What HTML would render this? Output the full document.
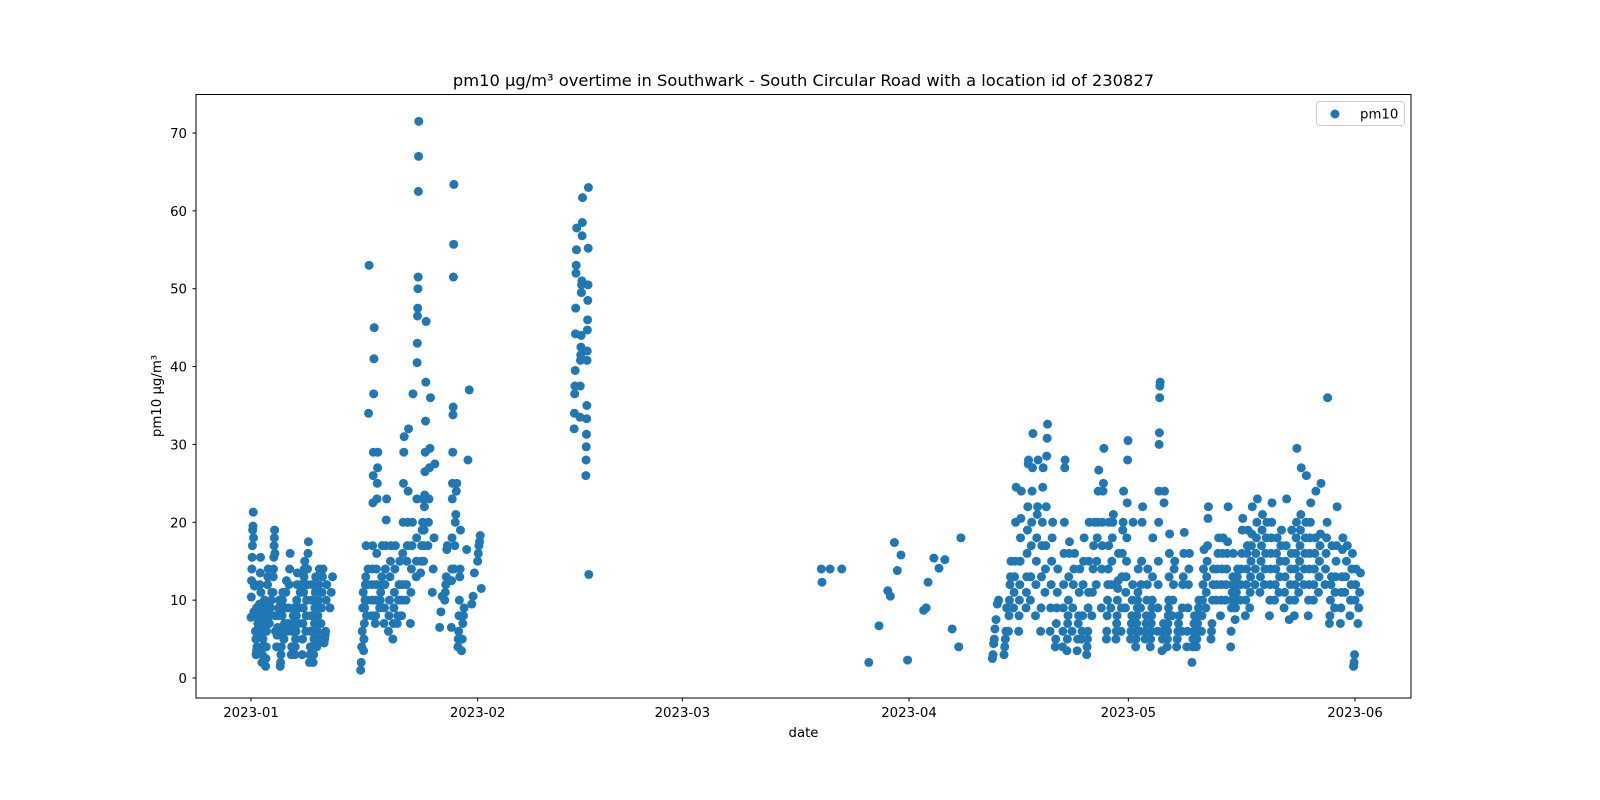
<!DOCTYPE html>
<html><head><meta charset="utf-8"><style>
html,body{margin:0;padding:0;background:#fff;width:1600px;height:800px;overflow:hidden}
svg{display:block;font-family:"DejaVu Sans","Liberation Sans",sans-serif}
</style></head><body>
<svg id="chart" width="1600" height="800" viewBox="0 0 1600 800">
<text x="803.5" y="86" font-size="16.3" text-anchor="middle">pm10 µg/m³ overtime in Southwark - South Circular Road with a location id of 230827</text>
<g id="marks"></g>
<rect x="196" y="94.5" width="1215" height="603.5" fill="none" stroke="#000" stroke-width="1"/>
<g id="xticks"></g>
<g id="yticks"></g>
<text x="803.5" y="737" font-size="13.3" text-anchor="middle">date</text>
<text transform="translate(161,396) rotate(-90)" font-size="13.3" text-anchor="middle">pm10 µg/m³</text>
<g>
<rect x="1316.5" y="101.5" width="88" height="24" rx="3" fill="#fff" stroke="#ccc"/>
<circle cx="1335" cy="114" r="4.5" fill="#1f77b4"/>
<text x="1360" y="118.5" font-size="13.3">pm10</text>
</g>
</svg>
<script>
// strip days (days since 2023-01-01) and values per strip
const stripDays = [0,0.4,0.7,1,1.5,2,2.5,3,3.5,4,4.5,5,5.5,6,6.5,7,7.5,8,8.5,9,9.5,10,10.8,
15,15.4,15.8,16.5,17,17.6,18.2,18.8,19.4,20,20.6,21.2,21.8,22.6,23.2,23.6,24.2,24.8,25.8,26.5,27.4,27.8,28.3,28.8,29.5,30.2,31,31.5,
44.2,45,45.8,46.2,
78,78.1,79.2,80.8,84.5,85.9,87.1,88,88.4,88.9,89.8,92,92.6,93.4,94.1,94.9,95.9,96.8,97.1,
101.4,101.9,103,103.6,104.3,105,106,106.6,107.3,108,108.6,109.3,110,111,111.6,112.3,113,113.6,114.3,115,115.6,116.3,117,117.6,118.3,119,119.6,120.3,121,121.6,122.3,123,124,124.6,125.3,126,126.6,127.3,128,128.7,129.3,130,130.6,131.3,132,132.6,133.3,134,134.6,135.3,136,136.6,137.3,138,138.6,139.3,140,140.6,141.3,142,142.7,143.3,144,144.6,145.3,146,146.9,147.5,148.2,149,149.6,150.3,150.8,151.4];
const stripVals = [
[7.8,10.4,12.5,14,15.5,17,19,19.5,21.3,18],[8.5,11.8,12,6,5,9],[3,3.5,4,6,7,8,9],[5.5,6.5,7.5,8.5,9.5,12,13.5,15.5,11],
[2,3,4,5,6,7,8,9,10],[1.5,2.5,4,6,8,9,12,13,14],[7,8,9,10,11],[11,13,14,15.5,17,18,19,16,8,6],[4,5.5,6.5,8,9,10],
[1.5,2,3,4,6,8,10,11],[5,7,9,11,12.5],[6,7,9,12,14,16],[3,4,6,7,8,9],[3,4,5,6,8,10,12,13.5],[7,9,11,12],
[3,5,7,9,11,13,14,15],[6,8,10,12,14,16,17.5],[2,3,4,6,8,10,12],[2,3,5,7,9,11,13],[4,6,8,10,12,14],[5,7,9,11,13,14],[4.5,5,5.5,6,10,12],[9,11,13],
[1,2,4,6,9,11],[3.5,5,7,9,10,12,13,17],[8,10,12,14,34,53],[8,10,12,14,17,22.5,26,29,36.5,41,45],[7,8,10,12,14,16,23,25,27,29],[9,10,11,12,13,17],
[7,9,12,14,17,20.3,23],[6,8,10,13,15,17],[5,7,9,11,14,17],[7,8,10,12,15],[8,10,12,16,20,25,29,31],[10,12,15,17,20,24,32],[7,11,14,17,20,36.5],
[13,15,18,23,40.5,43,46.5,47.5,50,51.5,62.5,67,71.5],[13.5,15,17,19,20,23],[15,17,19,22,23.5,26.5,29,33,38,45.8],[17,20,23,27,29.5,36],[11,14,18,27.5],
[6.5,8.5,10.5],[10,11,12,13,16.5,17],[6.5,12.5,14,18,23,25,29,33.8,34.8,51.5,55.7,63.4],[14,17,20,21,24,25],[4,5,6,8,10,13,14,19],[3.5,5,7,8,9],
[16.5,28,37],[9.5,10.5,13.5],[15,16,17,17.5,18.3],[11.5],
[32,34,36.5,37.5,39.5,44.2,47.5,52,53,55,57.8],[33.5,37.5,40.8,41.5,42.5,44,49.5,50.5,51,56.8,58.5,61.7],[26,28,29.7,31.3,33.3,35,40.8,42,44.7,46,48.5,50.5,55.2,63],[13.3],
[14],[12.3],[14],[14],[2],[6.7],[11.2,10.5],[17.4],[13.8],[15.8],[2.3],[8.7,9],[12.3],[15.4],[14.1],[15.2],[6.3],[4],[18],
[2.5,3,4.4,5,6.3],[7.5,9.5,10],[3,4,5,6,9],[6,8,10,12,13,15],[9,11,13,15,20,24.5],[6,8,10,12,15,18,20.5,24],[9,11,13,16,19,22,27.5,28],
[10,13,17,20,24,27,31.4],[8,12,15,18,21,22,28],[6,9,13,17,20,24.5,27],[11,14,17,22,28.5,30.8,32.6],[6,9,12,15,18,20],[4,5,7,9,11,14],
[4,6,9,12,16,20,27,28],[3.5,5,7,8,10,13,16,17.5],[6,9,12,14,16],[3.5,5,7,8,11,14],[5,6,8,12,15,18],[3,4,5,6,9,11,15,20],[8,11,14,17,20],
[12,15,18,20,24,26.7],[9,14,17,20,24,25,29.5],[5,6,8,10,12,14,17,20],[9,12,15,18,20,21],[5,6,7,8,10,11.5,12.5,16],[6,9,13,16,19,20,24],
[9,11,13,15,18,22.5,28,30.5],[5,6,7,8,10,12,20],[4,5,6,7,8,9,10,11,14],[6,9,12,15,20,22],[5,6,7,8,10,12,14],[4,5,6,7,8,9,10,13,18],
[6,9,12,15,20,24,30,31.5,36,37.5,38],[3.5,5,6,7,22.5,24],[4,5,6,7,8,9,10,13,16,18.5],[8,10,12,14,15],[4,5,6,7,8],[6,9,12,13,16,18.7],
[4,6,9,12,14,16],[2,4,5,6,7,8],[4,5,6,7,8,9,10],[6,8,10,12,14,16.5],[9,11,13,15,17,20.5,22],[5,6,7,10,12,14],[10,12,14,16,18],
[8,10,12,14,16,18],[10,12,14,16,17.5,22],[4,6,9,10,11,12,13,16],[7.5,9,10,11,12,13,14],[10,12,14,16,19,20.5],[8,10,12,14,16,17,19],
[9,11,13,15,17,18.5,22],[12,14,16,18,20,23],[11,13,15,17,19,21],[12,14,16,18,20],[8,10,12,14,16,18,20,22.5],[10,12,14,16,18],
[11,13,15,17,19],[9,11,13,15,17,23],[7.5,10,12,14,16,19],[8,10,12,14,16,18,20,29.5],[11,13,15,17,19,21,27],[12,14,16,18,20,26],
[8,10,12,14,16,18,20,22.5],[10,12,14,16,18,24],[11,13,15,17,18.5,25],[12,14,16,18,20,36],[7,8,10,12,13,17],[9,11,13,15,17,22],
[7,9,11,13,16.5,18],[11,13,15,17],[8,10,12,14,16],[1.5,2,3,10,12,14],[7,9,11,13.5]];
const yTicks = [0,10,20,30,40,50,60,70];
const xTickLabels = ["2023-01","2023-02","2023-03","2023-04","2023-05","2023-06"];
const xTickDays = [0,31,59,90,120,151];

const X0=251, PXDAY=(1355-251)/151, Y0=678, PXVAL=(678-133)/70;
const xs=d=>X0+d*PXDAY, ys=v=>Y0-v*PXVAL;
const NS="http://www.w3.org/2000/svg";
const marks=document.getElementById('marks');
stripDays.forEach((d,i)=>{
  const vals=stripVals[i]||[];
  vals.forEach((v,j)=>{
    const c=document.createElementNS(NS,'circle');
    
    
    c.setAttribute('cx',xs(d+(vals.length>1?j/(vals.length-1)*0.35:0)));
    c.setAttribute('cy',ys(v));
    c.setAttribute('r',4.5);
    c.setAttribute('fill','#1f77b4');
    marks.appendChild(c);
  });
});
const yg=document.getElementById('yticks');
yTicks.forEach(t=>{
  const y=ys(t);
  const l=document.createElementNS(NS,'line');
  
  
  l.setAttribute('x1',192.5);l.setAttribute('x2',196);l.setAttribute('y1',y);l.setAttribute('y2',y);l.setAttribute('stroke','#000');
  yg.appendChild(l);
  const tx=document.createElementNS(NS,'text');
  
  
  tx.setAttribute('x',187);tx.setAttribute('y',y+5);tx.setAttribute('font-size','13.3');tx.setAttribute('text-anchor','end');
  tx.textContent=t;yg.appendChild(tx);
});
const xg=document.getElementById('xticks');
xTickDays.forEach((d,i)=>{
  const x=xs(d);
  const l=document.createElementNS(NS,'line');
  
  
  l.setAttribute('x1',x);l.setAttribute('x2',x);l.setAttribute('y1',698);l.setAttribute('y2',701.5);l.setAttribute('stroke','#000');
  xg.appendChild(l);
  const tx=document.createElementNS(NS,'text');
  
  
  tx.setAttribute('x',x);tx.setAttribute('y',717);tx.setAttribute('font-size','13.3');tx.setAttribute('text-anchor','middle');
  tx.textContent=xTickLabels[i];xg.appendChild(tx);
});
</script>
</body></html>
